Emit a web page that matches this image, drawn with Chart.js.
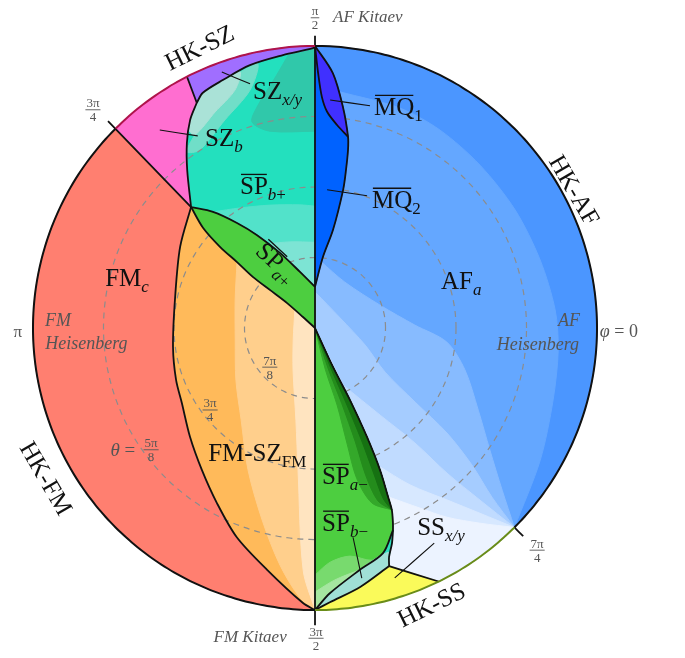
<!DOCTYPE html>
<html><head><meta charset="utf-8">
<script src="https://cdn.jsdelivr.net/npm/chart.js@4.4.1/dist/chart.umd.min.js"></script>
<style>html,body{margin:0;padding:0;background:#fff;}canvas{display:block;}</style>
</head><body>
<canvas id="c" width="685" height="658"></canvas>
<script>
// ================= DATA =================
// every point is [phi (degrees), theta (units of pi)]; outer circle theta = pi/2, centre theta = pi
const RIM = 0.5;
const CENTER = [90, 1];
const gridThetas = [5/8, 3/4, 7/8];

// phase boundaries
const fmBoundary   = [[135.7,0.693],[149.0,0.721],[167.5,0.746],[187.6,0.746],[200.5,0.737],[209.4,0.729],[221.1,0.706],[231.5,0.678],[240.8,0.644],[249.5,0.604],[258.8,0.563],[267.5,0.512],[270,0.5]];
const spAplusLower = [[135.7,0.693],[138.2,0.734],[139.5,0.779],[139.8,0.819],[140.6,0.858],[139.8,0.896],[138.2,0.933],[137.5,0.971],[90,1]];
const spAplusUpper = [[135.7,0.693],[131.3,0.726],[126.6,0.768],[121.95,0.806],[115.0,0.853],[105.0,0.897],[90,0.927]];
const szbBoundary  = [[135.7,0.693],[129.0,0.640],[124.7,0.601],[121.0,0.570],[117.7,0.549]];
const szxyBoundary = [[117.7,0.549],[115.5,0.538],[110.4,0.531],[103.9,0.520],[96.7,0.513],[90.4,0.504],[90,0.5]];
const szDivider    = [[117.0,0.5],[117.7,0.549]];
const fmDivider    = [[135.0,0.481],[135.7,0.693]];
const mqOuter      = [[90,0.5],[86.0,0.547],[82.8,0.605],[80.2,0.656],[79.5,0.679],[78.9,0.715],[78.5,0.750],[79.6,0.823],[83.6,0.873],[90,0.927]];
const mqInner      = [[90,0.5],[89.3,0.548],[88.3,0.590],[86.8,0.616],[83.8,0.638],[80.2,0.656]];
const spAminusEdge = [[90,1],[294.8,0.924],[295.9,0.858],[295.5,0.786],[294.6,0.723],[293.4,0.674],[292.9,0.650],[291.8,0.628],[291.1,0.616]];
const ssOuterEdge  = [[291.1,0.616],[289.7,0.595],[287.9,0.573],[287.3,0.558]];
const yellowTeal   = [[287.3,0.558],[279.9,0.534],[273.1,0.513],[270,0.5]];
const greenTeal    = [[291.1,0.616],[286.8,0.583],[280.5,0.564],[273.2,0.529],[270,0.5]];
const yellowAF     = [[287.3,0.558],[296.0,0.5]];
const axisLine     = [[90,0.482],[90,1],[270,0.473]];
const tick7pi4     = [[-45,0.478],[-45,0.5]];

// shading contours inside phases
const afBand1 = [[84.0,0.579],[68.9,0.582],[57.7,0.585],[44.6,0.589],[30.5,0.588],[16.8,0.583],[4.3,0.573],[-5.2,0.567],[-16.8,0.559],[-30.4,0.537],[-45,0.5]];
const afBand2 = [[84.8,0.882],[56.9,0.903],[19.5,0.878],[1.7,0.823],[-6.1,0.765],[-15.6,0.724],[-26.7,0.676],[-34.9,0.622],[-40.9,0.561],[-45,0.5]];
const afBand3 = [[90,0.936],[21.8,0.952],[-18.8,0.906],[-32.2,0.853],[-36.5,0.779],[-38.5,0.701],[-41.1,0.631],[-43.7,0.566],[-45,0.5]];
const afBand4 = [[-63.8,0.887],[-53.2,0.807],[-49.0,0.730],[-47.7,0.652],[-46.2,0.577],[-45,0.5]];
const afBand5 = [[-65.6,0.733],[-58.8,0.675],[-52.5,0.616],[-48.3,0.560],[-45,0.5]];
const afBand6 = [[-66.6,0.674],[-59.7,0.630],[-55.1,0.591],[-49.8,0.547],[-45,0.5]];
const fmszBand1 = [[139.8,0.819],[160.7,0.850],[188.5,0.857],[213.4,0.832],[231.2,0.791],[244.7,0.722],[254.6,0.647],[261.6,0.575],[266.8,0.521],[270,0.5]];
const fmszBand2 = [[138.0,0.952],[208.6,0.956],[242.4,0.916],[258.3,0.833],[263.2,0.746],[267.2,0.570],[270,0.5]];
const tealBand1 = [[131.3,0.726],[122.0,0.749],[110.1,0.768],[97.0,0.780],[90,0.784]];
const tealBand2 = [[119.8,0.828],[106.2,0.841],[90,0.848]];
const szDark    = [[95.2,0.509],[99.1,0.551],[104.3,0.592],[107.0,0.618],[102.9,0.642],[90,0.651],[90,0.651],[90,0.5],[90,0.5],[95.2,0.509]];
const szStripe1 = [[117.7,0.549],[115.5,0.538],[110.4,0.531],[106.3,0.527],[108.6,0.555],[114.8,0.578],[121.9,0.597],[122.5,0.584],[121.0,0.570],[117.7,0.549]];
const szStripe2 = [[106.3,0.527],[102.2,0.521],[105.3,0.563],[113.4,0.598],[122.9,0.624],[126.0,0.614],[121.9,0.597],[114.8,0.578],[108.6,0.555],[106.3,0.527]];
const spEdge3 = [[90,1],[284.0,0.924],[286.0,0.858],[285.5,0.786],[285.5,0.723],[288.0,0.674],[292.9,0.650]];
const spEdge2 = [[90,1],[288.0,0.924],[289.5,0.858],[289.5,0.786],[289.0,0.723],[290.0,0.674],[292.9,0.650]];
const spEdge1 = [[90,1],[291.5,0.924],[292.5,0.858],[292.5,0.786],[292.0,0.723],[291.8,0.674],[292.9,0.650]];
const spLight1 = [[270,0.562],[273.7,0.584],[278.7,0.591],[283.8,0.576],[286.8,0.583]];
const spLight2 = [[270,0.532],[274.5,0.552],[280.5,0.564]];
const ssLight  = [[288.1,0.582],[287.9,0.573],[287.3,0.558]];
const ssLightTop = [[280.5,0.564],[285.4,0.579],[288.1,0.582]];

// label leader lines
const leaders = [
  [[110.0,0.517],[104.9,0.552]],
  [[128.1,0.554],[121.4,0.601]],
  [[86.2,0.595],[76.1,0.594]],
  [[85.0,0.754],[68.5,0.748]],
  [[280.3,0.623],[280.6,0.549]],
  [[299.0,0.564],[287.7,0.535]]
];

// text labels (anchor in [phi, theta])
const textLabels = [
  {at:[112.4,0.461], align:'center', rot:-26, parts:[{t:'HK-SZ'}]},
  {at:[28.0,0.478],  align:'center', rot:60,  parts:[{t:'HK-AF'}]},
  {at:[209.2,0.455], align:'center', rot:60,  parts:[{t:'HK-FM'}]},
  {at:[292.8,0.469], align:'center', rot:-26, parts:[{t:'HK-SS'}]},
  {at:[104.6,0.564], parts:[{t:'SZ'},{t:'x/y',i:1,sub:1}]},
  {at:[119.9,0.609], parts:[{t:'SZ'},{t:'b',i:1,sub:1}]},
  {at:[75.1,0.593],  parts:[{t:'MQ',over:1},{t:'1',sub:1}]},
  {at:[117.7,0.714], parts:[{t:'SP',over:1},{t:'b',i:1,sub:1},{t:'+',sub:1}]},
  {at:[66.2,0.750],  parts:[{t:'MQ',over:1},{t:'2',sub:1}]},
  {at:[166.3,0.617], parts:[{t:'FM'},{t:'c',i:1,sub:1}]},
  {at:[119.9,0.865], align:'center', rot:43, parts:[{t:'SP',over:1},{t:'a',i:1,sub:1},{t:'+',sub:1}]},
  {at:[20.9,0.761],  parts:[{t:'AF'},{t:'a',i:1,sub:1}]},
  {at:[229.2,0.710], parts:[{t:'FM-SZ'},{t:'FM',sub:1}]},
  {at:[272.7,0.739], parts:[{t:'SP',over:1},{t:'a',i:1,sub:1},{t:'\u2212',sub:1}]},
  {at:[272.1,0.656], parts:[{t:'SP',over:1},{t:'b',i:1,sub:1},{t:'\u2212',sub:1}]},
  {at:[297.3,0.605], parts:[{t:'SS'},{t:'x/y',i:1,sub:1}]},
  {at:[180.6,0.473], align:'center', grey:1, size:17, parts:[{t:'\u03c0'}]},
  {at:[178.3,0.521], grey:1, size:18, parts:[{t:'FM',i:1}]},
  {at:[183.2,0.521], grey:1, size:18, parts:[{t:'Heisenberg',i:1}]},
  {at:[1.7,0.530],   align:'right', grey:1, size:18, parts:[{t:'AF',i:1}]},
  {at:[-3.3,0.531],  align:'right', grey:1, size:18, parts:[{t:'Heisenberg',i:1}]},
  {at:[-0.6,0.495],  grey:1, size:18, parts:[{t:'\u03c6',i:1},{t:' = 0'}]},
  {at:[214.1,0.615], align:'right', grey:1, size:19, parts:[{t:'\u03b8',i:1},{t:' ='}]},
  {at:[80.4,0.439],  align:'center', grey:1, size:17, parts:[{t:'AF Kitaev',i:1}]},
  {at:[258.1,0.442], align:'center', grey:1, size:17, parts:[{t:'FM Kitaev',i:1}]}
];
const fracLabels = [
  {at:[90,0.450],    num:'\u03c0',  den:'2'},
  {at:[135.5,0.448], num:'3\u03c0', den:'4'},
  {at:[220.9,0.894], num:'7\u03c0', den:'8'},
  {at:[218.0,0.764], num:'3\u03c0', den:'4'},
  {at:[216.6,0.638], num:'5\u03c0', den:'8'},
  {at:[315,0.443],   num:'7\u03c0', den:'4'},
  {at:[270.2,0.450], num:'3\u03c0', den:'2'}
];

// ================= STYLE =================
const COL = {
  af:['rgb(75,150,255)','rgb(100,167,255)','rgb(135,187,255)','rgb(165,204,255)','rgb(192,219,255)','rgb(215,232,255)','rgb(236,243,255)'],
  teal:'rgb(35,224,190)', teal1:'rgb(82,226,202)', teal2:'rgb(125,228,212)',
  szDark:'rgb(48,200,170)', szStr1:'rgb(170,226,215)', szStr2:'rgb(112,222,200)',
  purple:'rgb(160,110,255)', pink:'rgb(255,110,208)', fm:'rgb(255,127,112)',
  orange:'rgb(255,186,90)', orange1:'rgb(255,207,140)', orange2:'rgb(255,228,192)',
  green:'rgb(77,206,64)', dg3:'rgb(52,168,42)', dg2:'rgb(36,140,28)', dg1:'rgb(22,113,18)',
  lg1:'rgb(120,218,110)', lg2:'rgb(165,230,160)',
  mq1:'rgb(64,48,255)', mq2:'rgb(0,98,255)', ssTeal:'rgb(45,222,192)', ssLight:'rgb(160,224,214)',
  yellow:'rgb(250,250,90)', line:'#111', grid:'rgb(140,140,140)',
  rimSZ:'rgb(175,20,75)', rimSS:'rgb(105,140,25)', grey:'rgb(85,85,85)'
};
const SERIF = '"Liberation Serif","DejaVu Serif",serif';

// ================= HELPERS =================
function toXY(p){ const r = 2*(1-p[1]); const a = p[0]*Math.PI/180; return {x:r*Math.cos(a), y:r*Math.sin(a)}; }
const rev = a => a.slice().reverse();
const seg = (a,b) => [a,b];
const join = (...parts) => [].concat(...parts);
function arc(a0,a1,th){ const n=Math.max(2,Math.ceil(Math.abs(a1-a0)/1.5)); const o=[]; for(let i=0;i<=n;i++) o.push([a0+(a1-a0)*i/n, th]); return o; }

const datasets = [];
function addFill(pts,color){ datasets.push({data:pts.map(toXY), fill:'shape', backgroundColor:color, borderColor:color, borderWidth:1, tension:0.3, pointRadius:0}); }
function addLine(pts,color,width,dash){ datasets.push({data:pts.map(toXY), fill:false, borderColor:color, borderWidth:width, borderDash:dash||[], tension:0.3, pointRadius:0}); }

// ================= REGIONS (bottom to top) =================
const afTail = join(arc(-45,-64,RIM), rev(yellowAF), rev(ssOuterEdge), rev(spAminusEdge));
addFill(join(seg(CENTER,[90,RIM]), arc(90,-64,RIM), rev(yellowAF), rev(ssOuterEdge), rev(spAminusEdge)), COL.af[0]);
addFill(join(afBand1, afTail, seg(CENTER,[90,0.579]), seg([90,0.579], afBand1[0])), COL.af[1]);
addFill(join(afBand2, afTail, seg(CENTER,[90,0.927]), seg([90,0.927], afBand2[0])), COL.af[2]);
addFill(join(afBand3, afTail, seg(CENTER, afBand3[0])), COL.af[3]);
addFill(join(afBand4, afTail, seg(CENTER, afBand4[0])), COL.af[4]);
addFill(join(afBand5, afTail, seg(CENTER, afBand5[0])), COL.af[5]);
addFill(join(afBand6, afTail, seg(CENTER, afBand6[0])), COL.af[6]);

addFill(join(rev(szxyBoundary), rev(szbBoundary), spAplusUpper, seg([90,0.927],[90,RIM])), COL.teal);
addFill(szDark, COL.szDark);
addFill(szStripe2, COL.szStr2);
addFill(szStripe1, COL.szStr1);
addFill(join(tealBand1, seg([90,0.784],[90,0.927]), rev(spAplusUpper)), COL.teal1);
addFill(join(tealBand2, seg([90,0.848],[90,0.927]), rev(spAplusUpper)), COL.teal2);

addFill(join(arc(90,117,RIM), szDivider, szxyBoundary), COL.purple);
addFill(join(arc(117,135,RIM), seg([135,RIM],[135.7,0.693]), szbBoundary, rev(szDivider)), COL.pink);
addFill(join(arc(135,270,RIM), rev(fmBoundary), seg([135.7,0.693],[135,RIM])), COL.fm);

addFill(join(fmBoundary, seg([270,RIM],CENTER), rev(spAplusLower)), COL.orange);
addFill(join(fmszBand1, seg([270,RIM],CENTER), rev(spAplusLower)), COL.orange1);
addFill(join(fmszBand2, seg([270,RIM],CENTER), rev(spAplusLower)), COL.orange2);

gridThetas.forEach(th => addLine(arc(0,360,th), COL.grid, 1.2, [6,5]));

addFill(join(spAplusUpper, seg([90,0.927],CENTER), rev(spAplusLower)), COL.green);
addFill(join(mqOuter, seg([90,0.927],[90,RIM])), COL.mq2);
addFill(join(mqOuter.slice(0,4), rev(mqInner)), COL.mq1);

addFill(join(spAminusEdge, greenTeal, seg([270,RIM],CENTER)), COL.green);
addFill(join(spAminusEdge.slice(0,7), rev(spEdge3)), COL.dg3);
addFill(join(spAminusEdge.slice(0,7), rev(spEdge2)), COL.dg2);
addFill(join(spAminusEdge.slice(0,7), rev(spEdge1)), COL.dg1);
addFill(join(spLight1, greenTeal.slice(1), seg([270,RIM],[270,0.562])), COL.lg1);
addFill(join(spLight2, greenTeal.slice(2), seg([270,RIM],[270,0.532])), COL.lg2);

addFill(join(ssOuterEdge, yellowTeal, rev(greenTeal)), COL.ssTeal);
addFill(join(ssLight, yellowTeal, rev(greenTeal.slice(2)), ssLightTop), COL.ssLight);
addFill(join(arc(270,296,RIM), rev(yellowAF), yellowTeal), COL.yellow);

// ================= BOUNDARY LINES =================
[fmBoundary, spAplusLower, spAplusUpper, szbBoundary, szxyBoundary, szDivider, fmDivider, axisLine,
 mqOuter, mqInner, join(spAminusEdge, ssOuterEdge), yellowTeal, greenTeal, yellowAF, tick7pi4]
 .forEach(b => addLine(b, COL.line, 1.8));
addLine(arc(135,270,RIM), COL.line, 2);
addLine(arc(-45,90,RIM), COL.line, 2);
addLine(arc(90,135,RIM), COL.rimSZ, 2);
addLine(arc(270,315,RIM), COL.rimSS, 2);
leaders.forEach(l => addLine(l, COL.line, 1.1));

datasets.forEach((d,i) => d.order = -i);

// ================= LABELS =================
function drawRich(ctx, L, x, y){
  const size = L.size || 25;
  const color = L.grey ? COL.grey : '#111';
  const subSize = Math.round(size*0.68);
  const pieces = L.parts.map(p => {
    const fs = p.sub ? subSize : size;
    const font = (p.i ? 'italic ' : '') + fs + 'px ' + SERIF;
    ctx.font = font;
    return {p, font, w: ctx.measureText(p.t).width};
  });
  const total = pieces.reduce((s,q)=>s+q.w,0);
  ctx.save();
  ctx.translate(x,y);
  if (L.rot) ctx.rotate(L.rot*Math.PI/180);
  let cx = L.align==='center' ? -total/2 : (L.align==='right' ? -total : 0);
  const base = size*0.35;
  ctx.fillStyle = color; ctx.strokeStyle = color;
  ctx.textAlign = 'left'; ctx.textBaseline = 'alphabetic';
  for (const q of pieces){
    ctx.font = q.font;
    ctx.fillText(q.p.t, cx, q.p.sub ? base + size*0.24 : base);
    if (q.p.over){
      const oy = base - size*0.78;
      ctx.lineWidth = 1.3; ctx.beginPath(); ctx.moveTo(cx+1,oy); ctx.lineTo(cx+q.w-1,oy); ctx.stroke();
    }
    cx += q.w;
  }
  ctx.restore();
}
function drawFrac(ctx, F, x, y){
  const fs = 13;
  ctx.save();
  ctx.fillStyle = COL.grey; ctx.strokeStyle = COL.grey;
  ctx.font = fs + 'px ' + SERIF; ctx.textAlign = 'center'; ctx.textBaseline = 'alphabetic';
  const w = Math.max(ctx.measureText(F.num).width, ctx.measureText(F.den).width) + 2;
  ctx.fillText(F.num, x, y - 2.5);
  ctx.fillText(F.den, x, y + fs*0.72 + 2);
  ctx.lineWidth = 0.9; ctx.beginPath(); ctx.moveTo(x-w/2, y); ctx.lineTo(x+w/2, y); ctx.stroke();
  ctx.restore();
}
const labelPlugin = {
  id:'phaseLabels',
  afterDatasetsDraw(chart){
    const ctx = chart.ctx, sx = chart.scales.x, sy = chart.scales.y;
    const pix = p => { const q = toXY(p); return [sx.getPixelForValue(q.x), sy.getPixelForValue(q.y)]; };
    textLabels.forEach(L => { const [x,y] = pix(L.at); drawRich(ctx, L, x, y); });
    fracLabels.forEach(F => { const [x,y] = pix(F.at); drawFrac(ctx, F, x, y); });
  }
};

// axis window: disk radius (theta = pi/2) = 1 unit
const X_MIN = -1.117, X_MAX = 1.312, Y_MIN = -1.170, Y_MAX = 1.163;

new Chart(document.getElementById('c'), {
  type:'line',
  data:{datasets},
  options:{
    responsive:false, animation:false, events:[], indexAxis:'y',
    layout:{padding:0},
    plugins:{legend:{display:false}, tooltip:{enabled:false}},
    elements:{point:{radius:0, hitRadius:0}},
    scales:{
      x:{type:'linear', min:X_MIN, max:X_MAX, display:false},
      y:{type:'linear', min:Y_MIN, max:Y_MAX, display:false}
    }
  },
  plugins:[labelPlugin]
});
</script>
</body></html>
